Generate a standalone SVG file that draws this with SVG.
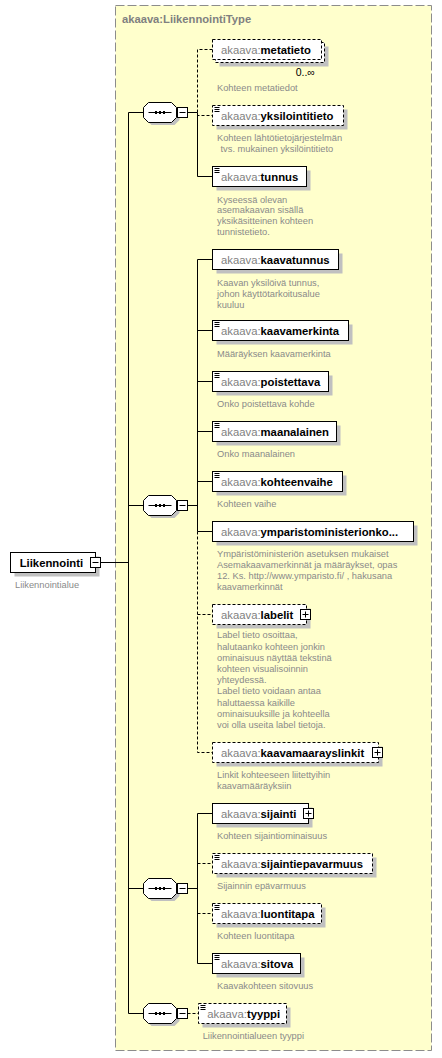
<svg xmlns="http://www.w3.org/2000/svg" xmlns:xlink="http://www.w3.org/1999/xlink" width="442" height="1058" viewBox="0 0 442 1058">
<style>
text{font-family:"Liberation Sans",Arial,sans-serif}
.bg{fill:#ffffcc;stroke:#8c8c8c;stroke-dasharray:9,3}
.box{fill:#fff;stroke:#000}
.opt{stroke-dasharray:3,2}
.sh{fill:#c0c0c0}
.ln{stroke:#000;fill:none}
.dl{stroke-dasharray:3,2}
.nm{font-size:11.3px;fill:#808080}
.b{font-weight:bold;fill:#000}
.ds{font-size:9.3px;fill:#8a8a8a}
.ttl{font-size:11.2px;font-weight:bold;fill:#808080}
.pm{fill:#fff;stroke:#000}
</style>
<defs>
<g id="seq">
<path class="sh" d="M151.5,-7.5H174.5L179.5,-2.5V7.5L174.5,12.5H151.5L146.5,7.5V-2.5Z"/>
<path fill="#fff" stroke="#000" d="M148.5,-10H171.5L176.5,-5V5L171.5,10H148.5L143.5,5V-5Z"/>
<path stroke="#000" d="M148.5,0H171.5"/>
<rect x="155" y="-1.5" width="2" height="3" fill="#000"/>
<rect x="159" y="-1.5" width="2" height="3" fill="#000"/>
<rect x="163" y="-1.5" width="2" height="3" fill="#000"/>
<rect class="pm" x="177.5" y="-5" width="10" height="10"/>
<path stroke="#000" d="M179.5,0H185.5"/>
</g>
<path id="ic" stroke="#000" fill="none" d="M0,0H5M0,2H5M0,4H5"/>
</defs>
<rect class="bg" x="115.5" y="5.5" width="316" height="1045"/>
<text class="ttl" x="122" y="23">akaava:LiikennointiType</text>

<g id="connectors" class="ln">
<path d="M100.5,562.5H128.5"/>
<path d="M128.5,112.5V1013.5M128.5,112.5H143.5M128.5,505.5H143.5M128.5,888.5H143.5M128.5,1013.5H143.5"/>
<path d="M187.5,112.5H197.5M197.5,112.5V176.5H212.5"/>
<path class="dl" d="M212.5,49.5H197.5V115.5H212.5"/>
<path d="M187.5,505.5H197.5M197.5,259.5V531.5M197.5,259.5H212.5M197.5,330.5H212.5M197.5,381.5H212.5M197.5,431.5H212.5M197.5,481.5H212.5M197.5,531.5H212.5"/>
<path class="dl" d="M197.5,531.5V752.5H212.5M197.5,614.5H212.5"/>
<path d="M187.5,888.5H197.5M197.5,813.5V963.5M197.5,813.5H212.5M197.5,963.5H212.5"/>
<path class="dl" d="M197.5,863.5H212.5M197.5,913.5H212.5"/>
<path class="dl" d="M187.5,1013.5H198.5"/>
</g>

<g id="seq1"><use xlink:href="#seq" href="#seq" y="112.5"/></g>
<g id="seq2"><use xlink:href="#seq" href="#seq" y="505.5"/></g>
<g id="seq3"><use xlink:href="#seq" href="#seq" y="888.5"/></g>
<g id="seq4"><use xlink:href="#seq" href="#seq" y="1013.5"/></g>

<g id="n-liikennointi">
<rect class="sh" x="14.5" y="556.5" width="85" height="20"/>
<rect class="box" x="10.5" y="552.5" width="85" height="20"/>
<text class="nm b" x="19.7" y="566.5">Liikennointi</text>
<rect class="pm" x="90.5" y="557.5" width="10" height="10"/>
<path stroke="#000" d="M92.5,562.5H98.5"/>
<text class="ds" x="15" y="587.6">Liikennointialue</text>
</g>

<g id="n-metatieto">
<rect class="sh" x="219.5" y="46.5" width="109" height="20"/>
<rect class="box opt" x="215.5" y="42.5" width="109" height="20"/>
<rect class="box opt" x="212.5" y="39.5" width="109" height="20"/>
<text class="nm" x="221" y="53.5">akaava:<tspan class="b">metatieto</tspan></text>
<text x="295.7" y="75.5" font-size="10.5" fill="#000">0..∞</text>
<text class="ds" x="217" y="91">Kohteen metatiedot</text>
</g>

<g id="n-yksilointitieto">
<rect class="sh" x="216.5" y="109.5" width="131" height="20"/>
<rect class="box opt" x="212.5" y="105.5" width="131" height="20"/>
<use xlink:href="#ic" href="#ic" x="214.5" y="107.5"/>
<text class="nm" x="221" y="119.5">akaava:<tspan class="b">yksilointitieto</tspan></text>
<text class="ds" x="217" y="140.6">Kohteen lähtötietojärjestelmän</text>
<text class="ds" x="220.5" y="152.3">tvs. mukainen yksilöintitieto</text>
</g>

<g id="n-tunnus">
<rect class="sh" x="216.5" y="170.5" width="94" height="20"/>
<rect class="box" x="212.5" y="166.5" width="94" height="20"/>
<use xlink:href="#ic" href="#ic" x="214.5" y="168.5"/>
<text class="nm" x="221" y="180.5">akaava:<tspan class="b">tunnus</tspan></text>
<text class="ds" x="217" y="202.6">Kyseessä olevan</text>
<text class="ds" x="217" y="213.4">asemakaavan sisällä</text>
<text class="ds" x="217" y="224.2">yksikäsitteinen kohteen</text>
<text class="ds" x="217" y="235">tunnistetieto.</text>
</g>

<g id="n-kaavatunnus">
<rect class="sh" x="216.5" y="253.5" width="126" height="20"/>
<rect class="box" x="212.5" y="249.5" width="126" height="20"/>
<text class="nm" x="221" y="263.5">akaava:<tspan class="b">kaavatunnus</tspan></text>
<text class="ds" x="217" y="286">Kaavan yksilöivä tunnus,</text>
<text class="ds" x="217" y="296.8">johon käyttötarkoitusalue</text>
<text class="ds" x="217" y="307.6">kuuluu</text>
</g>

<g id="n-kaavamerkinta">
<rect class="sh" x="216.5" y="324.5" width="136" height="20"/>
<rect class="box" x="212.5" y="320.5" width="136" height="20"/>
<use xlink:href="#ic" href="#ic" x="214.5" y="322.5"/>
<text class="nm" x="221" y="334.5">akaava:<tspan class="b">kaavamerkinta</tspan></text>
<text class="ds" x="217" y="356.6">Määräyksen kaavamerkinta</text>
</g>

<g id="n-poistettava">
<rect class="sh" x="216.5" y="375.5" width="116" height="20"/>
<rect class="box" x="212.5" y="371.5" width="116" height="20"/>
<use xlink:href="#ic" href="#ic" x="214.5" y="373.5"/>
<text class="nm" x="221" y="385.5">akaava:<tspan class="b">poistettava</tspan></text>
<text class="ds" x="217" y="407.3">Onko poistettava kohde</text>
</g>

<g id="n-maanalainen">
<rect class="sh" x="216.5" y="425.5" width="124" height="20"/>
<rect class="box" x="212.5" y="421.5" width="124" height="20"/>
<use xlink:href="#ic" href="#ic" x="214.5" y="423.5"/>
<text class="nm" x="221" y="435.5">akaava:<tspan class="b">maanalainen</tspan></text>
<text class="ds" x="217" y="457.3">Onko maanalainen</text>
</g>

<g id="n-kohteenvaihe">
<rect class="sh" x="216.5" y="475.5" width="130" height="20"/>
<rect class="box" x="212.5" y="471.5" width="130" height="20"/>
<use xlink:href="#ic" href="#ic" x="214.5" y="473.5"/>
<text class="nm" x="221" y="485.5">akaava:<tspan class="b">kohteenvaihe</tspan></text>
<text class="ds" x="217" y="507.3">Kohteen vaihe</text>
</g>

<g id="n-ymparisto">
<rect class="sh" x="216.5" y="525.5" width="201" height="20"/>
<rect class="box" x="212.5" y="521.5" width="201" height="20"/>
<text class="nm" x="221" y="535.5">akaava:<tspan class="b">ymparistoministerionko...</tspan></text>
<text class="ds" x="217" y="557.3">Ympäristöministeriön asetuksen mukaiset</text>
<text class="ds" x="217" y="568.2">Asemakaavamerkinnät ja määräykset, opas</text>
<text class="ds" x="217" y="579.1">12. Ks. http://www.ymparisto.fi/ , hakusana</text>
<text class="ds" x="217" y="590">kaavamerkinnät</text>
</g>

<g id="n-labelit">
<rect class="sh" x="216.5" y="608.5" width="94" height="20"/>
<rect class="box opt" x="212.5" y="604.5" width="94" height="20"/>
<text class="nm" x="221" y="618.5">akaava:<tspan class="b">labelit</tspan></text>
<rect class="pm" x="300.5" y="609.5" width="10" height="10"/>
<path stroke="#000" d="M302.5,614.5H308.5M305.5,611.5V617.5"/>
<text class="ds" x="217" y="638.3">Label tieto osoittaa,</text>
<text class="ds" x="217" y="649.5">halutaanko kohteen jonkin</text>
<text class="ds" x="217" y="660.7">ominaisuus näyttää tekstinä</text>
<text class="ds" x="217" y="671.9">kohteen visualisoinnin</text>
<text class="ds" x="217" y="683.1">yhteydessä.</text>
<text class="ds" x="217" y="694.3">Label tieto voidaan antaa</text>
<text class="ds" x="217" y="705.5">haluttaessa kaikille</text>
<text class="ds" x="217" y="716.7">ominaisuuksille ja kohteella</text>
<text class="ds" x="217" y="727.9">voi olla useita label tietoja.</text>
</g>

<g id="n-kaavamaarayslinkit">
<rect class="sh" x="216.5" y="746.5" width="166" height="20"/>
<rect class="box opt" x="212.5" y="742.5" width="166" height="20"/>
<text class="nm" x="221" y="756.5">akaava:<tspan class="b">kaavamaarayslinkit</tspan></text>
<rect class="pm" x="372.5" y="747.5" width="10" height="10"/>
<path stroke="#000" d="M374.5,752.5H380.5M377.5,749.5V755.5"/>
<text class="ds" x="217" y="778.3">Linkit kohteeseen liitettyihin</text>
<text class="ds" x="217" y="789.1">kaavamääräyksiin</text>
</g>

<g id="n-sijainti">
<rect class="sh" x="216.5" y="807.5" width="96" height="20"/>
<rect class="box" x="212.5" y="803.5" width="96" height="20"/>
<text class="nm" x="221" y="817.5">akaava:<tspan class="b">sijainti</tspan></text>
<rect class="pm" x="303.5" y="808.5" width="10" height="10"/>
<path stroke="#000" d="M305.5,813.5H311.5M308.5,810.5V816.5"/>
<text class="ds" x="217" y="839.3">Kohteen sijaintiominaisuus</text>
</g>

<g id="n-sijaintiepavarmuus">
<rect class="sh" x="216.5" y="857.5" width="160" height="20"/>
<rect class="box opt" x="212.5" y="853.5" width="160" height="20"/>
<use xlink:href="#ic" href="#ic" x="214.5" y="855.5"/>
<text class="nm" x="221" y="867.5">akaava:<tspan class="b">sijaintiepavarmuus</tspan></text>
<text class="ds" x="217" y="889">Sijainnin epävarmuus</text>
</g>

<g id="n-luontitapa">
<rect class="sh" x="216.5" y="907.5" width="109" height="20"/>
<rect class="box opt" x="212.5" y="903.5" width="109" height="20"/>
<use xlink:href="#ic" href="#ic" x="214.5" y="905.5"/>
<text class="nm" x="221" y="917.5">akaava:<tspan class="b">luontitapa</tspan></text>
<text class="ds" x="217" y="939.3">Kohteen luontitapa</text>
</g>

<g id="n-sitova">
<rect class="sh" x="216.5" y="957.5" width="88" height="20"/>
<rect class="box" x="212.5" y="953.5" width="88" height="20"/>
<use xlink:href="#ic" href="#ic" x="214.5" y="955.5"/>
<text class="nm" x="221" y="967.5">akaava:<tspan class="b">sitova</tspan></text>
<text class="ds" x="217" y="989">Kaavakohteen sitovuus</text>
</g>

<g id="n-tyyppi">
<rect class="sh" x="202.5" y="1007.5" width="88" height="20"/>
<rect class="box opt" x="198.5" y="1003.5" width="88" height="20"/>
<use xlink:href="#ic" href="#ic" x="200.5" y="1005.5"/>
<text class="nm" x="207.3" y="1017.5">akaava:<tspan class="b">tyyppi</tspan></text>
<text class="ds" x="202.7" y="1039.3">Liikennointialueen tyyppi</text>
</g>
</svg>
